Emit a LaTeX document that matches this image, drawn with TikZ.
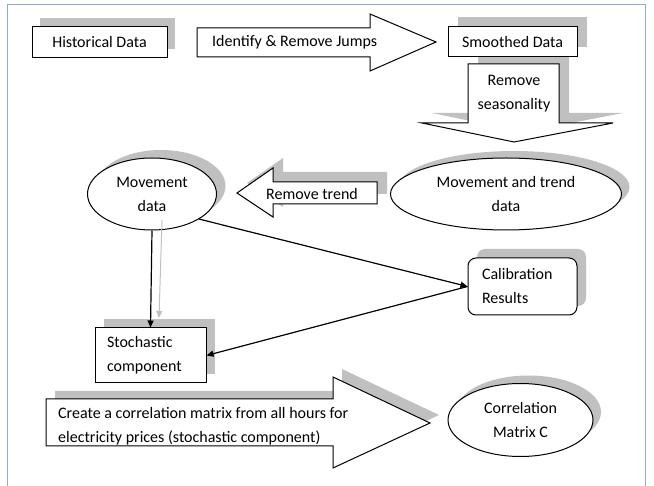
\documentclass[tikz,border=0pt]{standalone}
\usepackage{fontspec}
\setmainfont{Carlito}
\usetikzlibrary{shapes.geometric,shadows,arrows.meta}
\definecolor{shade}{RGB}{192,192,192}
\definecolor{framec}{RGB}{143,170,205}
\begin{document}
\begin{tikzpicture}[x=1pt,y=-1pt,
  lbl/.style={font=\fontsize{16}{24}\selectfont, inner sep=0pt},
  boxn/.style={draw=black, line width=1pt, fill=white, lbl},
  sh/.style={copy shadow={shadow xshift=#1, shadow yshift=9pt, fill=shade, draw=none}},
  sh/.default=9pt,
  conn/.style={-{Triangle[length=7pt,width=6pt]}, line width=1.2pt},
  gconn/.style={-{Triangle[length=7pt,width=6pt]}, line width=1pt, draw=shade},
  blockarrow/.style={draw=black, line width=1pt, fill=white},
  shadowpoly/.style={fill=shade, draw=none}]
\useasboundingbox (0,0) rectangle (654,486);
% frame
\draw[framec, line width=1pt] (7,490) -- (7,5) -- (645,5) -- (645,490);

% Historical Data
\node[boxn, sh=8pt, minimum width=135pt, minimum height=31pt] (hist) at (99.5,42.5) {Historical Data};

% Identify & Remove Jumps arrow
\draw[blockarrow] (197,28) -- (370,28) -- (370,14) -- (436,42) -- (370,71) -- (370,57) -- (197,57) -- cycle;
\node[lbl, anchor=west] (jumps) at (212,42) {Identify \& Remove Jumps};

% Remove seasonality down arrow (shadow then arrow)
\fill[shadowpoly] (478,54) -- (569,54) -- (569,113) -- (623,113) -- (524,132) -- (432,113) -- (478,113) -- cycle;

% Smoothed Data
\node[boxn, copy shadow={shadow xshift=10pt, shadow yshift=10pt, fill=shade, draw=none}, minimum width=129pt, minimum height=30pt] (smooth) at (512.5,42) {Smoothed Data};

\draw[blockarrow] (468,64) -- (559,64) -- (559,123) -- (613,123) -- (514,142) -- (422,123) -- (468,123) -- cycle;
\node[lbl, align=center] (season) at (514,94) {Remove\\seasonality};

% Movement and trend data
\node[ellipse, boxn, copy shadow={shadow xshift=8pt, shadow yshift=7pt, fill=shade, draw=none}, minimum width=231pt, minimum height=72pt, align=center] (mtd) at (506,194) {Movement and trend\\data};

% Remove trend arrow
\fill[shadowpoly] (247,183) -- (283,158) -- (283,172) -- (387,172) -- (387,194) -- (283,194) -- (283,207) -- cycle;
\draw[blockarrow] (237,193) -- (273,168) -- (273,182) -- (377,182) -- (377,204) -- (273,204) -- (273,217) -- cycle;
\node[lbl] (rtrend) at (312,194) {Remove trend};

% Movement data
\node[ellipse, boxn, copy shadow={shadow xshift=9pt, shadow yshift=8pt, fill=shade, draw=none}, minimum width=129pt, minimum height=72pt, align=center] (mov) at (152,194) {Movement\\data};

% Stochastic component
\node[boxn, sh, minimum width=111pt, minimum height=55pt, text width=87pt, align=left, inner xsep=12pt] (stoch) at (150.5,355.5) {Stochastic\\component};

% Calibration Results
\node[boxn, sh, rounded corners=8pt, minimum width=109pt, minimum height=57pt, text width=81pt, align=left, inner xsep=14pt] (calib) at (522.5,286.5) {Calibration\\Results};

% Correlation Matrix C
\node[ellipse, boxn, copy shadow={shadow xshift=8pt, shadow yshift=8pt, fill=shade, draw=none}, minimum width=145pt, minimum height=73pt, align=center] (corr) at (520.5,420) {Correlation\\Matrix C};

% Big bottom arrow
\fill[shadowpoly] (55,391) -- (342,391) -- (342,369) -- (439,415) -- (342,460) -- (342,438) -- (55,438) -- cycle;
\draw[blockarrow] (46,399) -- (333,399) -- (333,377) -- (430,423) -- (333,468) -- (333,446) -- (46,446) -- cycle;
\node[lbl, anchor=west, align=left] (create) at (58,426) {Create a correlation matrix from all hours for\\electricity prices (stochastic component)};

% connectors
\coordinate (g1) at (162,220);
\coordinate (g2) at (159,318);
\draw[gconn] (g1) -- (g2);
\draw[conn] (mov.south) -- (stoch.north);
\draw[conn] (mov.-28) -- (calib.west);
\draw[conn] (calib.west) -- (stoch.east);
\end{tikzpicture}
\end{document}
